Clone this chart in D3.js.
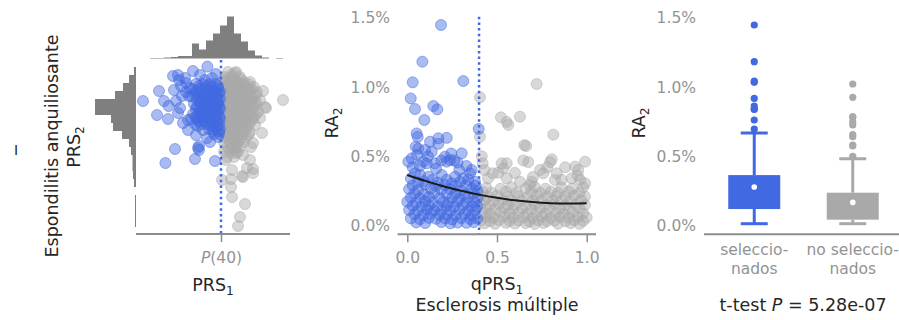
<!DOCTYPE html>
<html>
<head>
<meta charset="utf-8">
<script src="https://cdn.jsdelivr.net/npm/d3@7"></script>
<style>
  html, body { margin: 0; padding: 0; background: #fff; }
  svg { display: block; font-family: "DejaVu Sans", sans-serif; }
</style>
</head>
<body>
<svg id="chart" width="899" height="320"></svg>
<script>
// ---------- data ----------
// Panel A: PRS1 (x) vs PRS2 (y), standardised scores
const p40 = -0.3; // 40th percentile of PRS1
const prsSelected = [
  [-4.2,0.3],[-3.5,-0.4],[-3.4,0.8],[-3.15,0.3],[-2.92,0.05],[-2.95,-0.6],[-2.65,0.85],[-2.7,1.55],
  [-2.45,1.6],[-2.55,0.3],[-2.45,-0.3],[-2.35,-0.05],[-2.2,-0.8],[-2.3,1.05],[-2.05,1.2],[-1.7,1.8],
  [-0.98,2.02],[-0.55,1.65],[-1.45,-0.95],[-1.55,-1.4],[-1.0,-1.55],[-0.7,-1.2],[-2.6,-2.1],[-1.4,-1.95],
  [-3.08,-2.8],[-1.6,-2.6],[-1.4,-2.15],[-1.45,-2.05],[-0.6,-2.7],[-2.25,0.55],[-2.1,1.45],[-1.85,0.95],
  [-1.35,1.6],[-1.1,1.35],[-0.75,1.45],[-1.95,-1.15],[-1.2,-1.15],[-0.85,-1.75],[-0.45,-1.5],[-2.4,1.35],
  [-1.55,1.15],[-1.2,1.15],[-0.85,1.15],[-0.55,1.15],
  [-1.75,0.9],[-1.4,0.9],[-1.05,0.9],[-0.75,0.9],[-0.45,0.9],
  [-1.6,0.65],[-1.25,0.65],[-0.95,0.65],[-0.65,0.65],[-0.4,0.65],
  [-1.5,0.4],[-1.2,0.4],[-0.9,0.4],[-0.6,0.4],[-0.35,0.4],
  [-1.65,0.15],[-1.35,0.15],[-1.05,0.15],[-0.75,0.15],[-0.45,0.15],
  [-1.55,-0.1],[-1.2,-0.1],[-0.9,-0.1],[-0.6,-0.1],[-0.35,-0.1],
  [-1.7,-0.35],[-1.4,-0.35],[-1.1,-0.35],[-0.8,-0.35],[-0.5,-0.35],
  [-1.8,-0.6],[-1.5,-0.6],[-1.2,-0.6],[-0.9,-0.6],[-0.6,-0.6],[-0.35,-0.6],
  [-1.6,-0.85],[-1.3,-0.85],[-1.0,-0.85],[-0.7,-0.85],[-0.4,-0.85],
  [-0.9,-1.1],[-0.6,-1.1],[-0.35,-1.1],[-0.65,-1.35],[-0.4,-1.35],
  [-1.9,0.55],[-1.95,-0.65],[-2.05,0.75],
  [-1.4,1.05],[-1.05,1.05],[-0.7,1.05],[-0.45,1.05],
  [-1.55,0.78],[-1.25,0.78],[-0.9,0.78],[-0.6,0.78],[-0.35,0.78],
  [-1.75,0.52],[-1.4,0.52],[-1.1,0.52],[-0.8,0.52],[-0.5,0.52],
  [-1.35,0.28],[-1.05,0.28],[-0.75,0.28],[-0.45,0.28],
  [-1.5,0.02],[-1.2,0.02],[-0.9,0.02],[-0.6,0.02],[-0.38,0.02],
  [-1.35,-0.22],[-1.05,-0.22],[-0.75,-0.22],[-0.45,-0.22],
  [-1.55,-0.48],[-1.25,-0.48],[-0.95,-0.48],[-0.65,-0.48],[-0.38,-0.48],
  [-1.4,-0.72],[-1.1,-0.72],[-0.8,-0.72],[-0.5,-0.72],
  [-0.8,-0.98],[-0.5,-0.98],[-0.4,-1.22]
];
const prsOther = [
  [0.05,1.75],[0.45,1.75],
  [-0.1,1.5],[0.25,1.5],[0.65,1.5],
  [-0.15,1.25],[0.15,1.25],[0.5,1.25],[0.85,1.25],[1.15,1.25],
  [-0.05,1.0],[0.3,1.0],[0.65,1.0],[1.0,1.0],[1.35,1.0],
  [-0.2,0.75],[0.1,0.75],[0.45,0.75],[0.8,0.75],[1.15,0.75],[1.5,0.75],
  [-0.05,0.5],[0.25,0.5],[0.6,0.5],[0.95,0.5],[1.3,0.5],
  [-0.2,0.25],[0.1,0.25],[0.45,0.25],[0.8,0.25],[1.15,0.25],[1.45,0.25],
  [-0.05,0],[0.25,0],[0.6,0],[0.95,0],[1.3,0],
  [-0.2,-0.25],[0.1,-0.25],[0.45,-0.25],[0.8,-0.25],[1.15,-0.25],
  [-0.05,-0.5],[0.25,-0.5],[0.6,-0.5],[0.95,-0.5],[1.3,-0.5],
  [-0.2,-0.75],[0.1,-0.75],[0.45,-0.75],[0.8,-0.75],[1.15,-0.75],
  [-0.05,-1.0],[0.25,-1.0],[0.6,-1.0],[0.95,-1.0],
  [-0.2,-1.25],[0.1,-1.25],[0.45,-1.25],[0.8,-1.25],[1.15,-1.25],
  [-0.05,-1.5],[0.25,-1.5],[0.6,-1.5],[0.95,-1.5],
  [-0.15,-1.75],[0.15,-1.75],[0.5,-1.75],[0.85,-1.75],
  [0,-2.0],[0.35,-2.0],[0.65,-2.0],
  [-0.15,-2.25],[0.2,-2.25],[0.55,-2.25],
  [0,-2.5],[0.35,-2.5],
  [0.25,1.62],[-0.05,1.38],[0.35,1.38],[0.7,1.38],[0.1,1.12],[0.45,1.12],[0.8,1.12],[1.1,1.12],
  [-0.15,0.88],[0.2,0.88],[0.55,0.88],[0.9,0.88],[1.25,0.88],
  [0.05,0.62],[0.4,0.62],[0.75,0.62],[1.1,0.62],[1.45,0.62],
  [-0.1,0.38],[0.25,0.38],[0.6,0.38],[0.95,0.38],[1.3,0.38],
  [0.05,0.12],[0.4,0.12],[0.75,0.12],[1.1,0.12],[1.45,0.12],
  [-0.1,-0.12],[0.25,-0.12],[0.6,-0.12],[0.95,-0.12],[1.3,-0.12],
  [0.05,-0.38],[0.4,-0.38],[0.75,-0.38],[1.1,-0.38],[1.45,-0.38],
  [-0.1,-0.62],[0.25,-0.62],[0.6,-0.62],[0.95,-0.62],[1.3,-0.62],
  [0.05,-0.88],[0.4,-0.88],[0.75,-0.88],[1.1,-0.88],
  [-0.1,-1.12],[0.25,-1.12],[0.6,-1.12],[0.95,-1.12],
  [0.05,-1.38],[0.4,-1.38],[0.75,-1.38],[1.1,-1.38],
  [0.1,-1.62],[0.35,-1.62],[0.7,-1.62],
  [0.2,-1.88],[0.5,-1.88],[0.1,-2.12],[0.4,-2.12],
  [0.4,1.7],[0.65,1.2],[1.8,0.8],[1.9,0],[1.65,-0.55],[1.75,-1.3],[1.3,-1.8],[2.8,0.35],
  [0.8,-2.4],[1.0,-3.05],[1.3,-3.3],[1.3,-3.1],[0.25,-3.15],[-0.25,-3.65],[0.2,-4.0],[0.25,-4.5],
  [0.9,-4.85],[0.65,-5.5],[0.55,-5.95],[0.45,-2.3],[1.2,-2.0],[-0.05,-2.65],[0.2,-3.6],[1.55,-0.25],
  [1.4,-0.9],[1.65,0.35],[1.15,-2.65],[0.75,-3.45],[-0.2,1.3],[1.95,-0.05],[0.8,-3.5]
];
// marginal histograms (lower bin edges and counts)
const histTopEdges  = [-3.85,-3.5,-3.15,-2.8,-2.45,-2.1,-1.75,-1.4,-1.05,-0.7,-0.35,0,0.35,0.7,1.05,1.4,1.75,2.1,2.45];
const histTopCounts = [1,1,2,3,5,5,30,18,36,50,66,84,50,34,16,6,2,0,1];
const histTopWidth = 0.35;
const histLeftEdges  = [-6.0,-5.6,-5.2,-4.8,-4.4,-4.0,-3.6,-3.2,-2.8,-2.4,-2.0,-1.6,-1.2,-0.8,-0.4,0,0.4,0.8,1.2,1.6];
const histLeftCounts = [2,2,2,2,0,4,6,7,7,10,14,28,46,50,82,82,42,26,14,4];
const histLeftWidth = 0.4;

// Panel B: qPRS1 (quantile) vs RA2 (%)
const qCut = 0.4;
const raSelected = [
  [0.188,1.448],[0.084,1.183],[0.030,1.034],[0.312,1.043],[0.019,0.918],[0.145,0.863],[0.043,0.841],[0.167,0.839],
  [0.095,0.762],[0.398,0.697],
  [0.052,0.665],[0.058,0.640],[0.173,0.630],[0.220,0.633],[0.127,0.605],[0.173,0.590],[0.047,0.569],[0.061,0.555],
  [0.099,0.545],[0.136,0.533],[0.303,0.521],[0.210,0.497],[0.238,0.473],[0.220,0.461],[0.006,0.461],[0.025,0.485],
  [0.089,0.461],[0.108,0.449],[0.154,0.449],[0.262,0.470],[0.280,0.455],[0.330,0.430],[0.055,0.510],[0.115,0.500],
  [0.245,0.520],[0.190,0.470],[0.070,0.430],[0.160,0.410],[0.030,0.420],[0.290,0.400],
  [0.359,0.401],[0.350,0.377],[0.043,0.377],[0.071,0.365],[0.117,0.352],[0.192,0.365],[0.266,0.352],[0.312,0.341],
  [0.294,0.316],[0.248,0.305],[0.377,0.316],[0.140,0.330],[0.020,0.340],[0.090,0.320],[0.220,0.330],[0.170,0.310],
  [0.340,0.330],[0.060,0.310],
  [0.03,0.290],[0.10,0.296],[0.16,0.286],[0.21,0.293],[0.27,0.284],[0.33,0.291],[0.38,0.288],
  [0.01,0.262],[0.06,0.255],[0.13,0.266],[0.19,0.258],[0.24,0.262],[0.30,0.254],[0.36,0.265],[0.39,0.250],
  [0.04,0.232],[0.09,0.226],[0.15,0.235],[0.22,0.228],[0.27,0.233],[0.32,0.224],[0.37,0.231],
  [0.02,0.202],[0.07,0.196],[0.12,0.205],[0.18,0.198],[0.25,0.203],[0.29,0.195],[0.34,0.201],[0.39,0.197],
  [0.00,0.172],[0.05,0.166],[0.10,0.175],[0.14,0.168],[0.20,0.171],[0.23,0.164],[0.28,0.174],[0.33,0.167],[0.37,0.170],
  [0.03,0.142],[0.08,0.136],[0.12,0.145],[0.17,0.138],[0.22,0.141],[0.26,0.135],[0.31,0.144],[0.36,0.137],[0.39,0.140],
  [0.01,0.112],[0.06,0.106],[0.11,0.115],[0.15,0.108],[0.19,0.111],[0.24,0.105],[0.29,0.114],[0.34,0.107],[0.38,0.110],
  [0.04,0.082],[0.09,0.076],[0.13,0.085],[0.18,0.078],[0.22,0.081],[0.27,0.075],[0.32,0.084],[0.36,0.077],
  [0.02,0.052],[0.07,0.046],[0.12,0.055],[0.16,0.048],[0.21,0.051],[0.25,0.045],[0.30,0.054],[0.35,0.047],[0.39,0.050],
  [0.05,0.022],[0.10,0.018],[0.19,0.025],[0.24,0.016],[0.28,0.021],[0.33,0.019],[0.37,0.024]
];
const raOther = [
  [0.721,1.022],[0.405,0.926],[0.522,0.781],[0.628,0.786],[0.554,0.748],[0.563,0.726],[0.814,0.656],[0.405,0.641],
  [0.652,0.581],[0.662,0.574],[0.415,0.500],
  [0.526,0.449],[0.535,0.413],[0.647,0.470],[0.674,0.458],[0.805,0.478],[0.796,0.458],[0.740,0.401],[0.758,0.377],
  [0.833,0.377],[0.823,0.329],[0.935,0.425],[0.953,0.401],[0.991,0.461],[0.554,0.341],[0.628,0.316],[0.693,0.316],
  [0.684,0.292],[0.916,0.341],[0.963,0.329],[0.991,0.305],[0.420,0.449],[0.476,0.377],[0.507,0.381],[0.554,0.449],
  [0.430,0.400],[0.600,0.380],[0.880,0.420],[0.950,0.360],[0.780,0.420],[0.450,0.340],[0.700,0.350],[0.860,0.330],
  [0.44,0.272],[0.52,0.266],[0.58,0.275],[0.66,0.268],[0.71,0.278],[0.77,0.265],[0.86,0.274],[0.92,0.267],[0.98,0.276],
  [0.42,0.242],[0.47,0.236],[0.55,0.245],[0.61,0.238],[0.69,0.241],[0.74,0.235],[0.80,0.244],[0.84,0.237],[0.90,0.243],[0.96,0.236],
  [0.41,0.212],[0.45,0.206],[0.50,0.215],[0.56,0.208],[0.62,0.211],[0.67,0.205],[0.72,0.214],[0.78,0.207],[0.83,0.212],[0.88,0.206],[0.93,0.215],[0.99,0.209],
  [0.43,0.182],[0.48,0.176],[0.53,0.185],[0.58,0.178],[0.64,0.181],[0.70,0.175],[0.75,0.184],[0.81,0.177],[0.86,0.182],[0.91,0.176],[0.97,0.183],
  [0.41,0.152],[0.46,0.146],[0.51,0.155],[0.56,0.148],[0.60,0.151],[0.66,0.145],[0.71,0.154],[0.77,0.147],[0.82,0.152],[0.88,0.146],[0.94,0.153],[0.99,0.148],
  [0.44,0.122],[0.49,0.116],[0.54,0.125],[0.59,0.118],[0.64,0.121],[0.69,0.115],[0.74,0.124],[0.79,0.117],[0.85,0.122],[0.90,0.116],[0.96,0.123],
  [0.42,0.092],[0.46,0.086],[0.52,0.095],[0.57,0.088],[0.62,0.091],[0.67,0.085],[0.72,0.094],[0.77,0.087],[0.83,0.092],[0.87,0.086],[0.92,0.093],[0.98,0.088],
  [0.44,0.062],[0.48,0.056],[0.54,0.065],[0.59,0.058],[0.65,0.061],[0.70,0.055],[0.75,0.064],[0.80,0.057],[0.85,0.062],[0.90,0.056],[0.95,0.063],[1.00,0.058],
  [0.41,0.036],[0.46,0.031],[0.51,0.039],[0.57,0.033],[0.62,0.037],[0.68,0.030],[0.73,0.038],[0.78,0.032],[0.82,0.036],[0.88,0.031],[0.93,0.038],[0.98,0.033],
  [0.43,0.016],[0.49,0.012],[0.55,0.019],[0.60,0.014],[0.66,0.017],[0.71,0.011],[0.76,0.018],[0.84,0.013],[0.91,0.017],[0.96,0.012]
];
// fitted trend of RA2 against qPRS1
const trendQ  = [0, 0.1, 0.2, 0.3, 0.4, 0.5, 0.6, 0.7, 0.8, 0.9, 1.0];
const trendRA = [0.365, 0.322, 0.284, 0.251, 0.223, 0.200, 0.182, 0.169, 0.161, 0.158, 0.160];
const qTicks  = [0, 0.5, 1];
const raTicks = [0, 0.5, 1.0, 1.5];

// Panel C: box summaries of RA2 per group
const groups      = ["seleccionados", "no seleccionados"];
const groupLines  = [["seleccio-", "nados"], ["no seleccio-", "nados"]];
const boxQ1       = [0.119, 0.042];
const boxQ3       = [0.364, 0.237];
const boxMean     = [0.278, 0.167];
const whiskerLow  = [0.013, 0.013];
const whiskerHigh = [0.668, 0.482];
const pValue = "5.28e-07";

// ---------- styling ----------
const BLUE = "#4169e1", GREY = "#a9a9a9", HIST = "#7f7f7f";
const AXIS = "#8c8c8c", TICK = "#939393", INK = "#262626";
const R = 5.5;

const svg = d3.select("#chart");

// text with a trailing subscript
function labelWithSub(g, main, sub) {
  g.append("tspan").text(main);
  g.append("tspan").attr("font-size", "0.7em").attr("dy", "0.3em").text(sub);
  return g;
}

function scatter(g, data, x, y, color) {
  g.selectAll(null).data(data).join("circle")
    .attr("cx", d => x(d[0])).attr("cy", d => y(d[1])).attr("r", R)
    .attr("fill", color).attr("fill-opacity", 0.45)
    .attr("stroke", color).attr("stroke-opacity", 0.5).attr("stroke-width", 1);
}

function dotted(g, x, yTop, yBottom) {
  g.append("line").attr("x1", x).attr("x2", x).attr("y1", yTop).attr("y2", yBottom)
    .attr("stroke", BLUE).attr("stroke-width", 2.5).attr("stroke-dasharray", "2.5,3.2");
}

// ---------- panel A ----------
const x1 = d3.scaleLinear().domain([-4.55, 3.15]).range([136, 290]);
const y1 = d3.scaleLinear().domain([-6.35, 2.35]).range([234, 60]);
const hTop = d3.scaleLinear().domain([0, 84]).range([58.5, 16.5]);
const hLeft = d3.scaleLinear().domain([0, 82]).range([136, 95]);

const pA = svg.append("g");
pA.selectAll(null).data(histTopEdges).join("rect")
  .attr("x", d => x1(d)).attr("width", d => x1(d + histTopWidth) - x1(d))
  .attr("y", (d, i) => hTop(histTopCounts[i]))
  .attr("height", (d, i) => hTop(0) - hTop(histTopCounts[i]))
  .attr("fill", HIST);
pA.selectAll(null).data(histLeftEdges).join("rect")
  .attr("y", d => y1(d + histLeftWidth)).attr("height", d => y1(d) - y1(d + histLeftWidth))
  .attr("x", (d, i) => hLeft(histLeftCounts[i]))
  .attr("width", (d, i) => hLeft(0) - hLeft(histLeftCounts[i]))
  .attr("fill", HIST);

scatter(pA.append("g"), prsOther, x1, y1, GREY);
scatter(pA.append("g"), prsSelected, x1, y1, BLUE);
dotted(pA, x1(p40), y1.range()[1], y1.range()[0]);

const axA = pA.append("g").attr("transform", `translate(0,${y1.range()[0]})`)
  .call(d3.axisBottom(x1).tickValues([p40]).tickSize(8).tickPadding(10).tickFormat(() => ""));
axA.select(".domain").remove();
axA.selectAll(".tick line").attr("stroke", AXIS).attr("stroke-width", 1.5);
const pl = axA.select(".tick text").attr("fill", TICK).attr("font-size", 15.5).attr("font-family", "DejaVu Sans");
pl.append("tspan").attr("font-style", "italic").text("P");
pl.append("tspan").text("(40)");
pA.append("line").attr("x1", x1.range()[0]).attr("x2", x1.range()[1])
  .attr("y1", y1.range()[0]).attr("y2", y1.range()[0]).attr("stroke", AXIS).attr("stroke-width", 2);

labelWithSub(pA.append("text").attr("x", d3.mean(x1.range())).attr("y", 291)
  .attr("text-anchor", "middle").attr("font-size", 17.5).attr("fill", INK), "PRS", "1");
pA.append("text").attr("transform", "translate(58,146) rotate(-90)")
  .attr("text-anchor", "middle").attr("font-size", 17.5).attr("fill", INK)
  .text("Espondilitis anquiliosante");
labelWithSub(pA.append("text").attr("transform", "translate(80,147) rotate(-90)")
  .attr("text-anchor", "middle").attr("font-size", 17.5).attr("fill", INK), "PRS", "2");
pA.append("text").attr("x", 16).attr("y", 155).attr("text-anchor", "middle")
  .attr("font-size", 14).attr("fill", INK).text("I");

// ---------- panel B ----------
const x2 = d3.scaleLinear().domain([0, 1]).range([407.3, 586.7]);
const y2 = d3.scaleLinear().domain([0, 1.5]).range([225.5, 17.8]);
const pB = svg.append("g");

scatter(pB.append("g"), raOther, x2, y2, GREY);
scatter(pB.append("g"), raSelected, x2, y2, BLUE);
dotted(pB, x2(qCut), 16.7, 234);

pB.append("path")
  .attr("d", d3.line().x((d, i) => x2(trendQ[i])).y(d => y2(d)).curve(d3.curveMonotoneX)(trendRA))
  .attr("fill", "none").attr("stroke", "#1a1a1a").attr("stroke-width", 2);

const axB = pB.append("g").attr("transform", "translate(0,234.3)")
  .call(d3.axisBottom(x2).tickValues(qTicks).tickSize(8).tickPadding(10).tickFormat(d3.format(".1f")));
axB.select(".domain").remove();
axB.selectAll(".tick line").attr("stroke", AXIS).attr("stroke-width", 1.5);
axB.selectAll(".tick text").attr("fill", TICK).attr("font-size", 15.5).attr("font-family", "DejaVu Sans");
pB.append("line").attr("x1", x2(-0.054)).attr("x2", x2(1.052)).attr("y1", 234.3).attr("y2", 234.3)
  .attr("stroke", AXIS).attr("stroke-width", 2);

const ayB = pB.append("g").attr("transform", "translate(390,0)")
  .call(d3.axisLeft(y2).tickValues(raTicks).tickSize(0).tickPadding(0).tickFormat(d => d.toFixed(1) + "%"));
ayB.select(".domain").remove();
ayB.selectAll(".tick text").attr("fill", TICK).attr("font-size", 15.5).attr("font-family", "DejaVu Sans");

labelWithSub(pB.append("text").attr("x", 497).attr("y", 290)
  .attr("text-anchor", "middle").attr("font-size", 17.5).attr("fill", INK), "qPRS", "1");
pB.append("text").attr("x", 497).attr("y", 311).attr("text-anchor", "middle")
  .attr("font-size", 17.5).attr("fill", INK).text("Esclerosis múltiple");
labelWithSub(pB.append("text").attr("transform", "translate(338,123) rotate(-90)")
  .attr("text-anchor", "middle").attr("font-size", 17.5).attr("fill", INK), "RA", "2");

// ---------- panel C ----------
const x3 = d3.scaleBand().domain(groups).range([705, 902]);
const y3 = y2.copy();
const pC = svg.append("g");
const colors = [BLUE, GREY];
const groupData = [raSelected, raOther];
const boxW = 52, capW = 27;

groups.forEach((gname, i) => {
  const cx = x3(gname) + x3.bandwidth() / 2;
  const c = colors[i];
  const g = pC.append("g");
  g.append("line").attr("x1", cx).attr("x2", cx).attr("y1", y3(boxQ3[i])).attr("y2", y3(whiskerHigh[i]))
    .attr("stroke", c).attr("stroke-width", 3);
  g.append("line").attr("x1", cx).attr("x2", cx).attr("y1", y3(boxQ1[i])).attr("y2", y3(whiskerLow[i]))
    .attr("stroke", c).attr("stroke-width", 3);
  [whiskerHigh[i], whiskerLow[i]].forEach(v => {
    g.append("line").attr("x1", cx - capW / 2).attr("x2", cx + capW / 2).attr("y1", y3(v)).attr("y2", y3(v))
      .attr("stroke", c).attr("stroke-width", 3);
  });
  g.append("rect").attr("x", cx - boxW / 2).attr("width", boxW)
    .attr("y", y3(boxQ3[i])).attr("height", y3(boxQ1[i]) - y3(boxQ3[i])).attr("fill", c);
  g.selectAll(null).data(groupData[i].filter(d => d[1] > whiskerHigh[i])).join("circle")
    .attr("cx", cx).attr("cy", d => y3(d[1])).attr("r", 3.6).attr("fill", c);
  g.append("circle").attr("cx", cx).attr("cy", y3(boxMean[i])).attr("r", 2.8).attr("fill", "#fff");

  const t = g.append("text").attr("text-anchor", "middle").attr("font-size", 15.5).attr("fill", TICK);
  groupLines[i].forEach((ln, k) => {
    t.append("tspan").attr("x", cx).attr("y", 255 + k * 18.5).text(ln);
  });
});

pC.append("line").attr("x1", x3.range()[0] - 1).attr("x2", 899).attr("y1", 234.3).attr("y2", 234.3)
  .attr("stroke", AXIS).attr("stroke-width", 2);

const ayC = pC.append("g").attr("transform", "translate(696,0)")
  .call(d3.axisLeft(y3).tickValues(raTicks).tickSize(0).tickPadding(0).tickFormat(d => d.toFixed(1) + "%"));
ayC.select(".domain").remove();
ayC.selectAll(".tick text").attr("fill", TICK).attr("font-size", 15.5).attr("font-family", "DejaVu Sans");

labelWithSub(pC.append("text").attr("transform", "translate(645,123) rotate(-90)")
  .attr("text-anchor", "middle").attr("font-size", 17.5).attr("fill", INK), "RA", "2");

const tt = pC.append("text").attr("x", 803).attr("y", 311).attr("text-anchor", "middle")
  .attr("font-size", 17.5).attr("fill", INK);
tt.append("tspan").text("t-test ");
tt.append("tspan").attr("font-style", "italic").text("P");
tt.append("tspan").text(" = " + pValue);
</script>
</body>
</html>
